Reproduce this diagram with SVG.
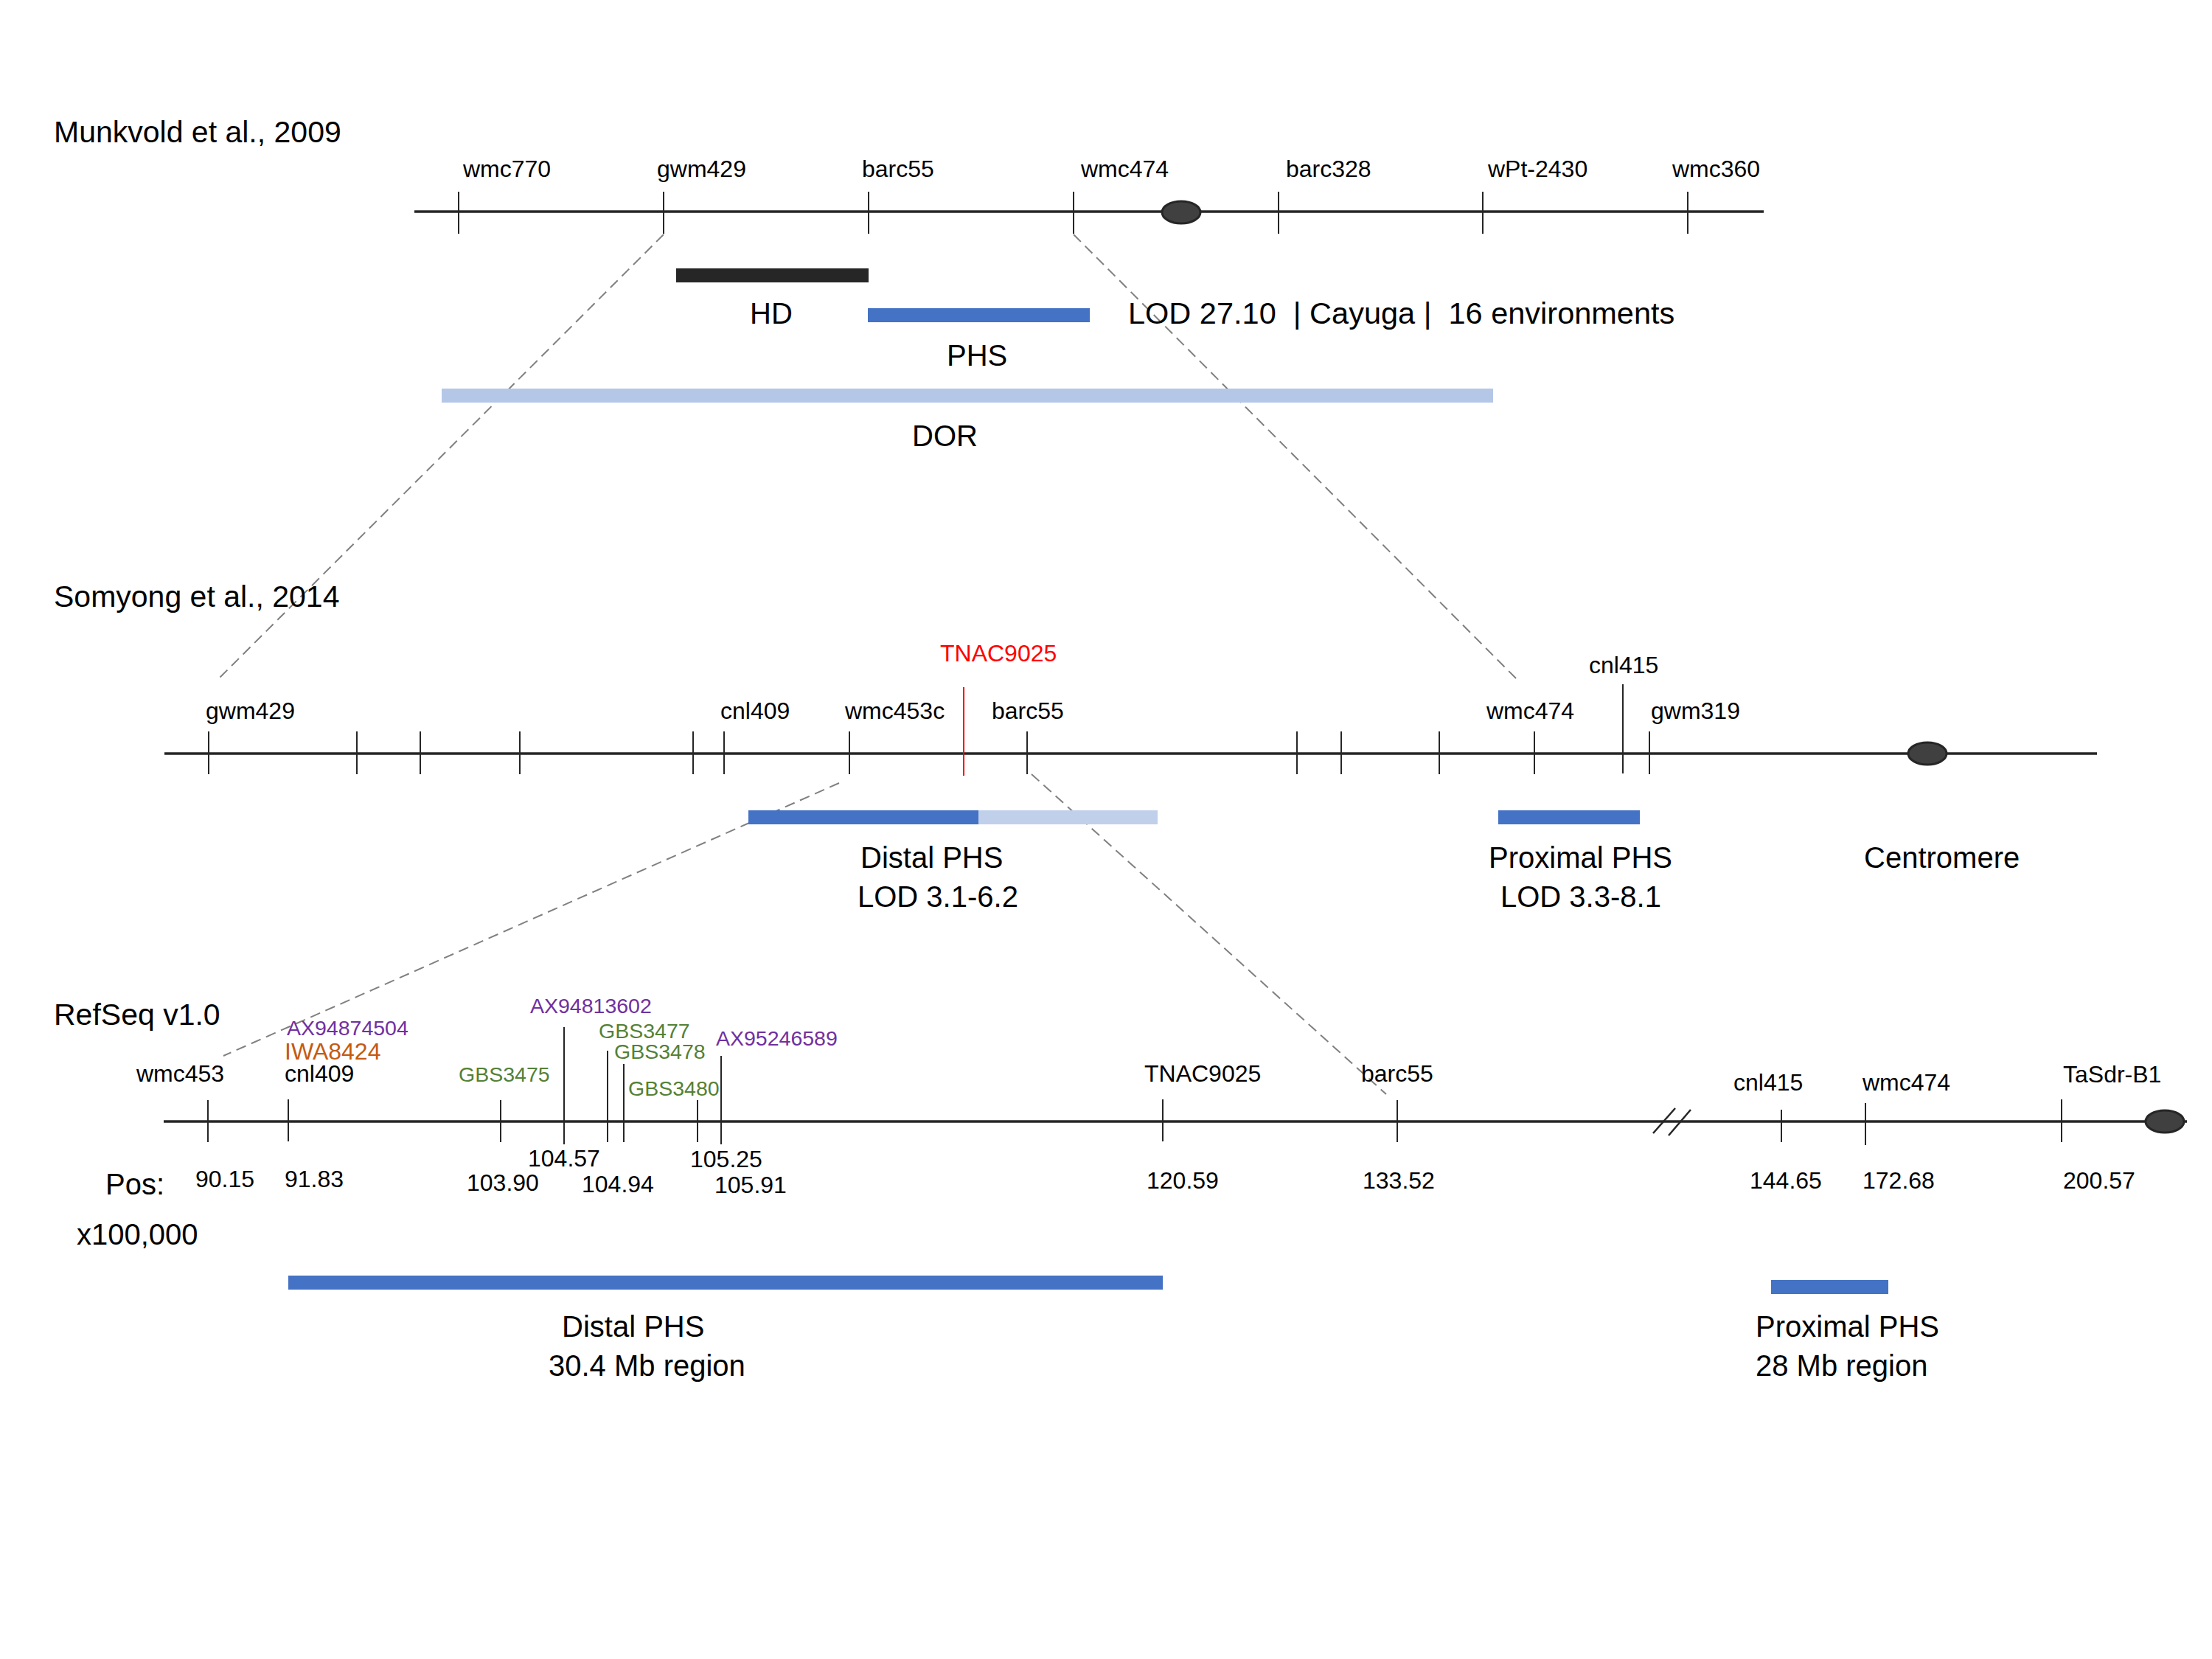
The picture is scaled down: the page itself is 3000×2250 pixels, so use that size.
<svg xmlns="http://www.w3.org/2000/svg" width="3000" height="2250" viewBox="0 0 3000 2250">
<style>
text{font-family:"Liberation Sans",Arial,sans-serif;fill:#000}
.t32{font-size:32px}
.t40{font-size:40px}
.t28{font-size:28.5px}
.title{font-size:41px}
.purple{fill:#7030A0}
.green{fill:#538135}
.orange{fill:#C55A11}
.red{fill:#FF0000}
.chr{stroke:#262626;stroke-width:3.5;fill:none}
.tick{stroke:#262626;stroke-width:2;fill:none}
.cen{fill:#404040;stroke:#262626;stroke-width:3}
.dash{stroke:#808080;stroke-width:2;stroke-dasharray:14 8;fill:none}
.blue{fill:#4472C4}
.lblue{fill:#B4C7E7}
.lblue2{fill:#C0D0EA}
</style>
<rect width="3000" height="2250" fill="#fff"/>

<g id="connectors">
<line class="dash" x1="900" y1="318" x2="294" y2="923"/>
<line class="dash" x1="1456" y1="318" x2="2060" y2="924"/>
<line class="dash" x1="1138" y1="1062" x2="303" y2="1432"/>
<line class="dash" x1="1399" y1="1050" x2="1880" y2="1484"/>
</g>

<g id="munkvold">
<text class="title" x="73" y="193">Munkvold et al., 2009</text>
<line class="chr" x1="562" y1="287" x2="2392" y2="287"/>
<g id="m-ticks">
<line class="tick" x1="622" y1="260" x2="622" y2="317"/>
<line class="tick" x1="900" y1="260" x2="900" y2="317"/>
<line class="tick" x1="1178" y1="260" x2="1178" y2="317"/>
<line class="tick" x1="1456" y1="260" x2="1456" y2="317"/>
<line class="tick" x1="1734" y1="260" x2="1734" y2="317"/>
<line class="tick" x1="2011" y1="260" x2="2011" y2="317"/>
<line class="tick" x1="2289" y1="260" x2="2289" y2="317"/>
</g>
<ellipse id="m-centromere" class="cen" cx="1602" cy="288" rx="26" ry="15"/>
<g id="m-labels" class="t32">
<text x="628" y="240">wmc770</text>
<text x="891" y="240">gwm429</text>
<text x="1169" y="240">barc55</text>
<text x="1466" y="240">wmc474</text>
<text x="1744" y="240">barc328</text>
<text x="2018" y="240">wPt-2430</text>
<text x="2268" y="240">wmc360</text>
</g>
<g id="m-HD">
<rect x="917" y="364" width="261" height="19" fill="#262626"/>
<text class="t40" x="1017" y="439">HD</text>
</g>
<g id="m-PHS">
<rect class="blue" x="1177" y="418" width="301" height="19"/>
<text class="t40" x="1284" y="496">PHS</text>
<text x="1530" y="439" font-size="41.5" xml:space="preserve">LOD 27.10  | Cayuga |  16 environments</text>
</g>
<g id="m-DOR">
<rect class="lblue" x="599" y="527" width="1426" height="19"/>
<text class="t40" x="1237" y="605">DOR</text>
</g>
</g>

<g id="somyong">
<text class="title" x="73" y="823">Somyong et al., 2014</text>
<line class="chr" x1="223" y1="1022" x2="2844" y2="1022"/>
<g id="s-ticks">
<line class="tick" x1="283" y1="992" x2="283" y2="1050"/>
<line class="tick" x1="484" y1="992" x2="484" y2="1050"/>
<line class="tick" x1="570" y1="992" x2="570" y2="1050"/>
<line class="tick" x1="705" y1="992" x2="705" y2="1050"/>
<line class="tick" x1="940" y1="992" x2="940" y2="1050"/>
<line class="tick" x1="982" y1="992" x2="982" y2="1050"/>
<line class="tick" x1="1152" y1="992" x2="1152" y2="1050"/>
<line x1="1307" y1="932" x2="1307" y2="1052" stroke="#FF0000" stroke-width="2"/>
<line class="tick" x1="1393" y1="992" x2="1393" y2="1050"/>
<line class="tick" x1="1759" y1="992" x2="1759" y2="1050"/>
<line class="tick" x1="1819" y1="992" x2="1819" y2="1050"/>
<line class="tick" x1="1952" y1="992" x2="1952" y2="1050"/>
<line class="tick" x1="2081" y1="992" x2="2081" y2="1050"/>
<line class="tick" x1="2201" y1="928" x2="2201" y2="1049"/>
<line class="tick" x1="2237" y1="992" x2="2237" y2="1050"/>
</g>
<ellipse id="s-centromere" class="cen" cx="2614" cy="1022" rx="26" ry="15"/>
<g id="s-labels" class="t32">
<text x="279" y="975">gwm429</text>
<text x="977" y="975">cnl409</text>
<text x="1146" y="975">wmc453c</text>
<text class="red" x="1275" y="897">TNAC9025</text>
<text x="1345" y="975">barc55</text>
<text x="2016" y="975">wmc474</text>
<text x="2155" y="913">cnl415</text>
<text x="2239" y="975">gwm319</text>
</g>
<g id="s-distal">
<rect class="blue" x="1015" y="1099" width="312" height="19"/>
<rect class="lblue2" x="1327" y="1099" width="243" height="19"/>
<text class="t40" x="1167" y="1177">Distal PHS</text>
<text class="t40" x="1163" y="1230">LOD 3.1-6.2</text>
</g>
<g id="s-proximal">
<rect class="blue" x="2032" y="1099" width="192" height="19"/>
<text class="t40" x="2019" y="1177">Proximal PHS</text>
<text class="t40" x="2035" y="1230">LOD 3.3-8.1</text>
</g>
<text id="s-centromere-label" class="t40" x="2528" y="1177">Centromere</text>
</g>

<g id="refseq">
<text class="title" x="73" y="1390">RefSeq v1.0</text>
<line class="chr" x1="222" y1="1521" x2="2966" y2="1521"/>
<g id="r-break" stroke="#262626" stroke-width="2.5">
<line x1="2242" y1="1537" x2="2272" y2="1503"/>
<line x1="2263" y1="1540" x2="2293" y2="1505"/>
</g>
<g id="r-ticks">
<line class="tick" x1="282" y1="1492" x2="282" y2="1549"/>
<line class="tick" x1="391" y1="1491" x2="391" y2="1548"/>
<line class="tick" x1="679" y1="1492" x2="679" y2="1549"/>
<line class="tick" x1="765" y1="1393" x2="765" y2="1552"/>
<line class="tick" x1="824" y1="1425" x2="824" y2="1549"/>
<line class="tick" x1="846" y1="1443" x2="846" y2="1549"/>
<line class="tick" x1="946" y1="1492" x2="946" y2="1549"/>
<line class="tick" x1="978" y1="1432" x2="978" y2="1552"/>
<line class="tick" x1="1577" y1="1491" x2="1577" y2="1548"/>
<line class="tick" x1="1895" y1="1492" x2="1895" y2="1549"/>
<line class="tick" x1="2416" y1="1505" x2="2416" y2="1549"/>
<line class="tick" x1="2530" y1="1496" x2="2530" y2="1553"/>
<line class="tick" x1="2796" y1="1491" x2="2796" y2="1549"/>
</g>
<ellipse id="r-centromere" class="cen" cx="2936" cy="1521" rx="26" ry="15"/>
<g id="r-labels">
<text class="t32" x="185" y="1467">wmc453</text>
<text class="t32" x="386" y="1467">cnl409</text>
<text class="t32 orange" x="386" y="1437">IWA8424</text>
<text class="t28 purple" x="389" y="1404">AX94874504</text>
<text class="t28 green" x="622" y="1467">GBS3475</text>
<text class="t28 purple" x="719" y="1374">AX94813602</text>
<text class="t28 green" x="812" y="1408">GBS3477</text>
<text class="t28 green" x="833" y="1436">GBS3478</text>
<text class="t28 green" x="852" y="1486">GBS3480</text>
<text class="t28 purple" x="971" y="1418">AX95246589</text>
<text class="t32" x="1552" y="1467">TNAC9025</text>
<text class="t32" x="1846" y="1467">barc55</text>
<text class="t32" x="2351" y="1479">cnl415</text>
<text class="t32" x="2526" y="1479">wmc474</text>
<text class="t32" x="2798" y="1468">TaSdr-B1</text>
</g>
<g id="r-positions" class="t32">
<text class="t40" x="143" y="1620">Pos:</text>
<text class="t40" x="104" y="1688">x100,000</text>
<text x="265" y="1610">90.15</text>
<text x="386" y="1610">91.83</text>
<text x="633" y="1615">103.90</text>
<text x="716" y="1582">104.57</text>
<text x="789" y="1617">104.94</text>
<text x="936" y="1583">105.25</text>
<text x="969" y="1618">105.91</text>
<text x="1555" y="1612">120.59</text>
<text x="1848" y="1612">133.52</text>
<text x="2373" y="1612">144.65</text>
<text x="2526" y="1612">172.68</text>
<text x="2798" y="1612">200.57</text>
</g>
<g id="r-distal">
<rect class="blue" x="391" y="1730" width="1186" height="19"/>
<text class="t40" x="762" y="1813">Distal PHS</text>
<text class="t40" x="744" y="1866">30.4 Mb region</text>
</g>
<g id="r-proximal">
<rect class="blue" x="2402" y="1736" width="159" height="19"/>
<text class="t40" x="2381" y="1813">Proximal PHS</text>
<text class="t40" x="2381" y="1866">28 Mb region</text>
</g>
</g>
</svg>
